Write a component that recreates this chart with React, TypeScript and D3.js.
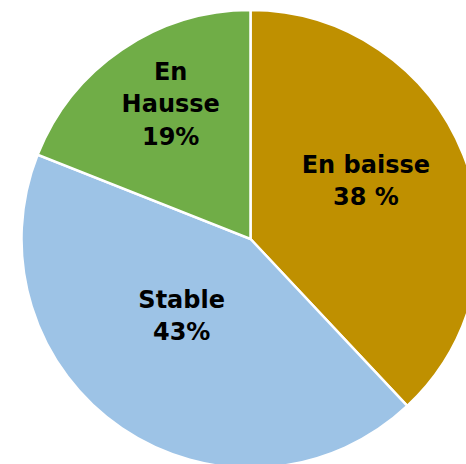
import React from "react";
import * as d3 from "d3";

const categories = ["En baisse", "Stable", "En Hausse"];
const values = [38, 43, 19];
const labelLines = [["En baisse", "38 %"], ["Stable", "43%"], ["En", "Hausse", "19%"]];
const colors = ["#BF9000", "#9DC3E6", "#70AD47"];

const W = 466, H = 464;
const cx = 250.5, cy = 239, R = 229;

export default function App() {
  const data = categories.map((c, i) => ({ c, v: values[i], lines: labelLines[i], color: colors[i] }));
  const pie = d3.pie<any>().sort(null).value((d) => d.v);
  const arcs = pie(data);
  const arc = d3.arc<any>().innerRadius(0).outerRadius(R);
  const labelPos = [
    { r: 130, nx: -5.5, ny: -11 },
    { r: 102, nx: -11.5, ny: -8 },
    { r: 158, nx: 9, ny: -5 },
  ];
  const lh = 32.5;
  return (
    <svg width={W} height={H} style={{ position: "absolute", left: 0, top: 0 }}>
      <g transform={`translate(${cx},${cy})`}>
        {arcs.map((a, i) => (
          <path key={i} d={arc(a) as string} fill={a.data.color} stroke="#fff" strokeWidth={2.5} />
        ))}
        {arcs.map((a, i) => {
          const p = labelPos[i];
          const [x0, y0] = d3.arc<any>().innerRadius(p.r).outerRadius(p.r).centroid(a);
          const x = x0 + p.nx, y = y0 + p.ny;
          const n = a.data.lines.length;
          return (
            <text key={i} textAnchor="middle" fontFamily="DejaVu Sans, sans-serif" fontWeight={700} fontSize={24} fill="#000">
              {a.data.lines.map((l: string, j: number) => (
                <tspan key={j} x={x} y={y + (j - (n - 1) / 2) * lh + 8.7}>{l}</tspan>
              ))}
            </text>
          );
        })}
      </g>
    </svg>
  );
}
